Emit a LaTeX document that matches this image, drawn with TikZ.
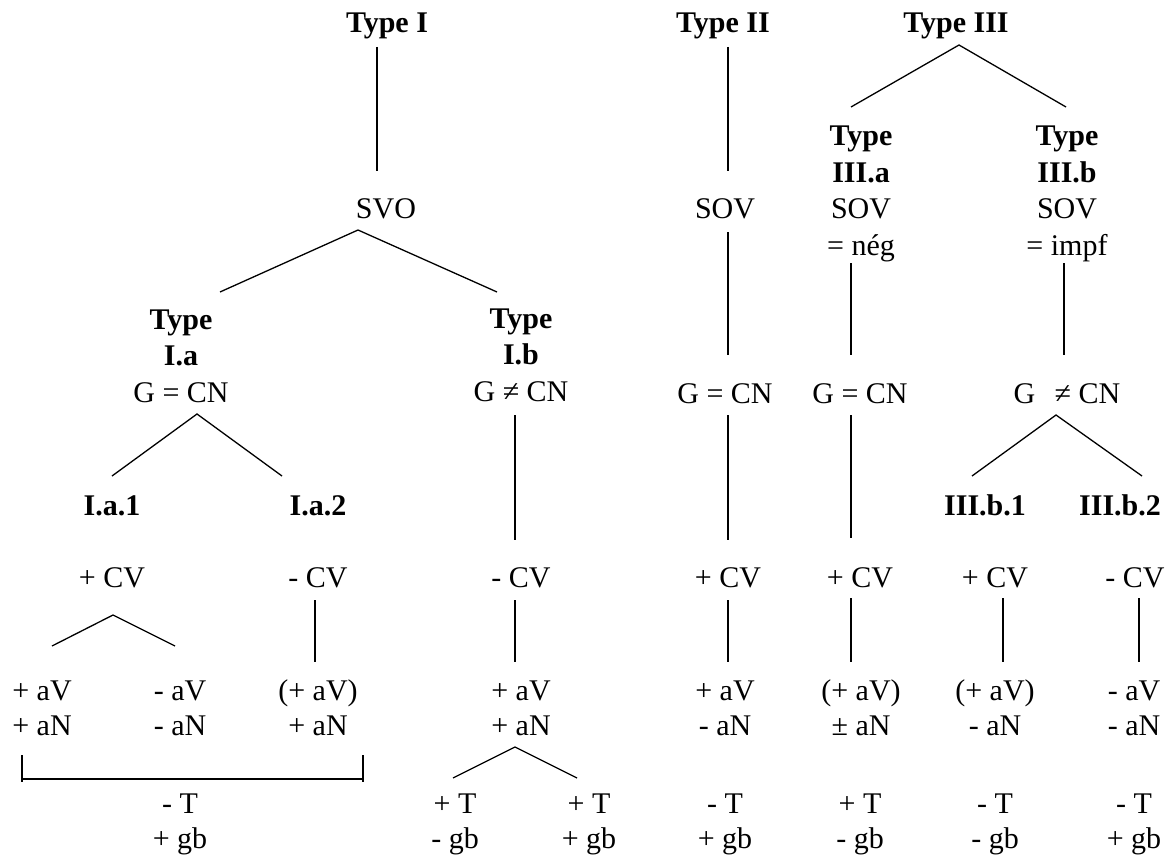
\documentclass[tikz,border=0pt]{standalone}
\usepackage{fontspec}
\setmainfont{Liberation Serif}

\tikzset{
  lbl/.style={anchor=base, inner sep=0pt, align=center, font=\fontsize{30}{36.5}\selectfont},
  ttl/.style={lbl, font=\fontsize{30}{36.5}\selectfont\bfseries},
  feat/.style={lbl, font=\fontsize{30}{35}\selectfont},
  link/.style={line width=1.3pt}
}

\begin{document}
\begin{tikzpicture}[x=1pt, y=-1pt]
  \useasboundingbox (0,0) rectangle (1174,856);
  % top of the three types (multi-line nodes sit on their last line)
  \node[ttl] (tI)   at (387,33) {Type I};
  \node[ttl] (tII)  at (723,33) {Type II};
  \node[ttl] (tIII) at (956,33) {Type III};
  \node[lbl] (svo)   at (386,218) {SVO};
  \node[lbl] (sovII) at (725,218) {SOV};
  \node[lbl] (tIIIa) at (861,255) {\textbf{Type}\\\textbf{III.a}\\SOV\\= nég};
  \node[lbl] (tIIIb) at (1067,255) {\textbf{Type}\\\textbf{III.b}\\SOV\\= impf};
  \node[lbl] (tIa) at (181,402) {\textbf{Type}\\\textbf{I.a}\\G = CN};
  \node[lbl] (tIb) at (521,401) {\textbf{Type}\\\textbf{I.b}\\G ≠ CN};
  \node[lbl] (gcnII)   at (725,403) {G = CN};
  \node[lbl] (gcnIIIa) at (860,403) {G = CN};
  \node[lbl] (gcnIIIb) at (1067,403) {G\hspace{0.4em} ≠ CN};
  % subtypes
  \node[ttl] (Ia1)   at (112,515) {I.a.1};
  \node[ttl] (Ia2)   at (318,515) {I.a.2};
  \node[ttl] (IIIb1) at (985,515) {III.b.1};
  \node[ttl] (IIIb2) at (1120,515) {III.b.2};
  % CV row
  \node[lbl] (cvIa1)   at (112,587) {+ CV};
  \node[lbl] (cvIa2)   at (318,587) {- CV};
  \node[lbl] (cvIb)    at (521,587) {- CV};
  \node[lbl] (cvII)    at (728,587) {+ CV};
  \node[lbl] (cvIIIa)  at (860,587) {+ CV};
  \node[lbl] (cvIIIb1) at (995,587) {+ CV};
  \node[lbl] (cvIIIb2) at (1135,587) {- CV};
  % aV / aN row
  \node[feat] (aIa1p)  at (42,735)   {+ aV\\+ aN};
  \node[feat] (aIa1m)  at (180,735)  {- aV\\- aN};
  \node[feat] (aIa2)   at (318,735)  {(+ aV)\\+ aN};
  \node[feat] (aIb)    at (521,735)  {+ aV\\+ aN};
  \node[feat] (aII)    at (725,735)  {+ aV\\- aN};
  \node[feat] (aIIIa)  at (861,735)  {(+ aV)\\± aN};
  \node[feat] (aIIIb1) at (995,735)  {(+ aV)\\- aN};
  \node[feat] (aIIIb2) at (1134,735) {- aV\\- aN};
  % T / gb row
  \node[feat] (tgIa)    at (180,848)  {- T\\+ gb};
  \node[feat] (tgIb1)   at (455,848)  {+ T\\- gb};
  \node[feat] (tgIb2)   at (589,848)  {+ T\\+ gb};
  \node[feat] (tgII)    at (725,848)  {- T\\+ gb};
  \node[feat] (tgIIIa)  at (860,848)  {+ T\\- gb};
  \node[feat] (tgIIIb1) at (995,848)  {- T\\- gb};
  \node[feat] (tgIIIb2) at (1134,848) {- T\\+ gb};

  % Type I branch
  \draw[link] ([shift={(-10,14)}]tI.base) -- ([shift={(-9,-47)}]svo.base);
  \draw[link] ([shift={(39,-110)}]tIa.base) -- ([shift={(-28,12)}]svo.base) -- ([shift={(-24,-109)}]tIb.base);
  \draw[link] ([shift={(0,-39)}]Ia1.base) -- ([shift={(16,12)}]tIa.base) -- ([shift={(-36,-39)}]Ia2.base);
  \draw[link] ([shift={(10,-89)}]aIa1p.base) -- ([shift={(1,28)}]cvIa1.base) -- ([shift={(-5,-89)}]aIa1m.base);
  \draw[link] ([shift={(-3,13)}]cvIa2.base) -- ([shift={(-3,-73)}]aIa2.base);
  \draw[link] ([shift={(-20,20)}]aIa1p.base) -- ([shift={(-20,47)}]aIa1p.base);
  \draw[link] ([shift={(-20,44)}]aIa1p.base) -- ([shift={(45,44)}]aIa2.base);
  \draw[link] ([shift={(45,20)}]aIa2.base) -- ([shift={(45,47)}]aIa2.base);
  \draw[link] ([shift={(-6,14)}]tIb.base) -- ([shift={(-6,-47)}]cvIb.base);
  \draw[link] ([shift={(-6,13)}]cvIb.base) -- ([shift={(-6,-73)}]aIb.base);
  \draw[link] ([shift={(-2,-70)}]tgIb1.base) -- ([shift={(-6,12)}]aIb.base) -- ([shift={(-12,-70)}]tgIb2.base);
  % Type II branch
  \draw[link] ([shift={(5,14)}]tII.base) -- ([shift={(3,-47)}]sovII.base);
  \draw[link] ([shift={(3,14)}]sovII.base) -- ([shift={(3,-48)}]gcnII.base);
  \draw[link] ([shift={(3,12)}]gcnII.base) -- ([shift={(0,-47)}]cvII.base);
  \draw[link] ([shift={(0,13)}]cvII.base) -- ([shift={(3,-73)}]aII.base);
  % Type III branch
  \draw[link] ([shift={(-10,-148)}]tIIIa.base) -- ([shift={(3,12)}]tIII.base) -- ([shift={(-1,-148)}]tIIIb.base);
  \draw[link] ([shift={(-10,8)}]tIIIa.base) -- ([shift={(-9,-48)}]gcnIIIa.base);
  \draw[link] ([shift={(-3,8)}]tIIIb.base) -- ([shift={(-3,-48)}]gcnIIIb.base);
  \draw[link] ([shift={(-9,12)}]gcnIIIa.base) -- ([shift={(-9,-49)}]cvIIIa.base);
  \draw[link] ([shift={(-9,11)}]cvIIIa.base) -- ([shift={(-10,-73)}]aIIIa.base);
  \draw[link] ([shift={(-13,-39)}]IIIb1.base) -- ([shift={(-11,12)}]gcnIIIb.base) -- ([shift={(22,-39)}]IIIb2.base);
  \draw[link] ([shift={(8,11)}]cvIIIb1.base) -- ([shift={(8,-73)}]aIIIb1.base);
  \draw[link] ([shift={(4,11)}]cvIIIb2.base) -- ([shift={(5,-73)}]aIIIb2.base);
\end{tikzpicture}
\end{document}
